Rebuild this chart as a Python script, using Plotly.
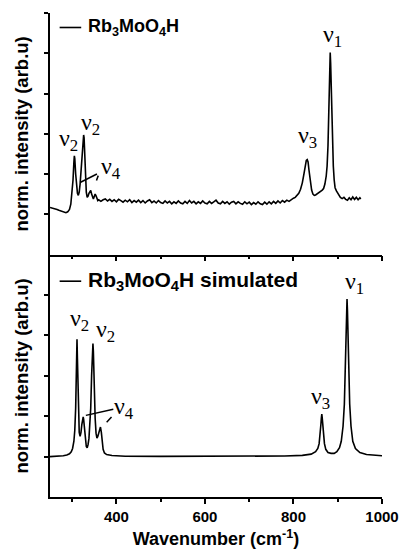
import plotly.graph_objects as go

# ---------------- data ----------------
# Experimental Raman spectrum (top panel)
exp_wavenumber = [
    250, 254, 258, 262, 266, 270, 274, 278, 282, 286, 290, 294, 297, 300, 302, 304, 305, 306, 308, 310,
    312, 314, 316, 318, 320, 322, 324, 326, 327, 328, 330, 332, 334, 336, 338, 340, 342, 344, 346, 348,
    350, 352, 354, 356, 358,
    360, 365, 370, 375, 380, 385, 390, 395, 400, 405, 410, 415, 420, 425, 430, 435, 440, 445, 450, 455,
    460, 465, 470, 475, 480, 485, 490, 495, 500, 505, 510, 515, 520, 525, 530, 535, 540, 545, 550, 555,
    560, 565, 570, 575, 580, 585, 590, 595, 600, 605, 610, 615, 620, 625, 630, 635, 640, 645, 650, 655,
    660, 665, 670, 675, 680, 685, 690, 695, 700, 705, 710, 715, 720, 725, 730, 735, 740, 745, 750, 755,
    760, 765, 770, 775, 780, 785, 790, 795,
    800, 804, 808, 812, 816, 820, 824, 827, 829, 831, 833, 835, 838, 841, 844, 847, 850, 853, 856, 859,
    862, 865, 868, 871, 874, 876, 878, 880, 881, 882, 883, 884, 885, 886, 888, 890, 892, 894, 897, 900,
    903, 906, 910, 914, 918, 922, 926, 930, 934, 938, 942, 946, 950, 952,
]
exp_intensity = [
    0.17, 0.16, 0.15, 0.13, 0.12, 0.10, 0.08, 0.06, 0.05, 0.04, 0.06, 0.12, 0.25, 0.55, 0.85, 1.30, 1.45, 1.38, 1.00, 0.70,
    0.52, 0.47, 0.55, 0.75, 1.05, 1.45, 1.85, 1.97, 1.90, 1.60, 0.95, 0.55, 0.42, 0.45, 0.52, 0.58, 0.59, 0.50, 0.40, 0.38,
    0.44, 0.50, 0.46, 0.38, 0.34,
    0.36, 0.32, 0.36, 0.38, 0.33, 0.37, 0.32, 0.36, 0.31, 0.37, 0.34, 0.30, 0.35, 0.31, 0.36, 0.29, 0.34, 0.30, 0.35, 0.29,
    0.34, 0.28, 0.33, 0.36, 0.29, 0.33, 0.28, 0.34, 0.29, 0.27, 0.33, 0.28, 0.32, 0.26, 0.31, 0.27, 0.33, 0.28, 0.26, 0.32,
    0.27, 0.34, 0.28, 0.32, 0.26, 0.31, 0.27, 0.33, 0.28, 0.26, 0.32, 0.27, 0.31, 0.35, 0.28, 0.26, 0.32, 0.27, 0.31, 0.25,
    0.30, 0.32, 0.26, 0.31, 0.27, 0.25, 0.31, 0.26, 0.30, 0.24, 0.29, 0.25, 0.31, 0.26, 0.24, 0.30, 0.25, 0.31, 0.26, 0.32,
    0.27, 0.33, 0.28, 0.34, 0.30, 0.35, 0.32, 0.37,
    0.40, 0.42, 0.46, 0.52, 0.62, 0.78, 1.02, 1.25, 1.34, 1.36, 1.30, 1.10, 0.80, 0.60, 0.50, 0.47, 0.48, 0.50, 0.52, 0.55,
    0.58, 0.60, 0.64, 0.75, 0.95, 1.20, 1.70, 2.60, 3.20, 3.75, 4.02, 3.75, 3.20, 2.60, 1.70, 1.20, 0.85, 0.66, 0.58, 0.52,
    0.46, 0.42, 0.39, 0.42, 0.37, 0.35, 0.41, 0.36, 0.43, 0.37, 0.42, 0.36, 0.41, 0.38,
]

# Simulated spectrum (bottom panel)
sim_wavenumber = [
    250, 270, 280, 288, 294, 298, 301, 304, 306, 308, 309, 310, 311, 312, 313, 314, 316, 318, 320, 322,
    324, 325, 326, 328, 330, 332, 334, 336, 338, 340, 342, 344, 345, 346, 347, 348, 349, 350, 352, 354,
    356, 358, 360, 362, 364, 366, 368, 370, 373, 378, 390, 420, 500, 600, 700, 780, 820, 840, 850, 855,
    858, 860, 862, 863, 864, 865, 866, 868, 870, 873, 878, 885, 892, 898, 904, 908, 912, 915, 917, 919,
    920, 921, 922, 923, 925, 927, 930, 934, 940, 950, 965, 980, 1000,
]
sim_intensity = [
    0.0, 0.01, 0.02, 0.04, 0.07, 0.12, 0.20, 0.38, 0.65, 1.20, 1.70, 2.40, 2.90, 2.40, 1.70, 1.15, 0.60, 0.50, 0.60, 0.80,
    0.95, 0.98, 0.92, 0.65, 0.38, 0.25, 0.22, 0.30, 0.45, 0.75, 1.20, 2.00, 2.45, 2.75, 2.80, 2.60, 2.10, 1.55, 0.95, 0.58,
    0.46, 0.50, 0.60, 0.70, 0.73, 0.60, 0.35, 0.18, 0.09, 0.05, 0.025, 0.01, 0.005, 0.005, 0.01, 0.015, 0.03, 0.06, 0.12, 0.20,
    0.32, 0.50, 0.80, 0.95, 1.05, 0.95, 0.80, 0.50, 0.32, 0.18, 0.10, 0.08, 0.08, 0.12, 0.22, 0.38, 0.75, 1.30, 2.00, 3.00,
    3.60, 3.90, 3.60, 3.00, 2.00, 1.30, 0.75, 0.38, 0.20, 0.10, 0.05, 0.03, 0.02,
]

# Labels
legend_exp = "Rb<sub>3</sub>MoO<sub>4</sub>H"
legend_sim = "Rb<sub>3</sub>MoO<sub>4</sub>H simulated"
x_tick_major = [400, 600, 800, 1000]
x_tick_minor = [300, 500, 700, 900]
y_title = "norm. intensity (arb.u)"
x_title = "Wavenumber (cm<sup>-1</sup>)"

# Peak labels: (text, x, y) in data units of each panel
top_labels = [("ν<sub>1</sub>", 889, 4.42), ("ν<sub>3</sub>", 832, 1.92), ("ν<sub>2</sub>", 291, 1.85),
              ("ν<sub>2</sub>", 341, 2.24), ("ν<sub>4</sub>", 388, 1.15)]
bot_labels = [("ν<sub>1</sub>", 937, 4.30), ("ν<sub>3</sub>", 860, 1.45), ("ν<sub>2</sub>", 317, 3.38),
              ("ν<sub>2</sub>", 376, 3.10), ("ν<sub>4</sub>", 417, 1.20)]
# leader strokes for nu4 labels: (x0, y0, x1, y1)
top_leaders = [(318, 0.79, 356, 1.00), (355, 0.84, 359, 0.96)]
bot_leaders = [(331, 1.02, 393, 1.17), (378, 0.85, 389, 0.98)]

# ---------------- figure ----------------
BLACK = "black"
SANS = "Liberation Sans, Arial, sans-serif"
SERIF = "Liberation Serif, Times New Roman, serif"

fig = go.Figure()
fig.add_trace(go.Scatter(x=exp_wavenumber, y=exp_intensity, mode="lines",
                         line=dict(color=BLACK, width=1.6), xaxis="x2", yaxis="y2",
                         showlegend=False))
fig.add_trace(go.Scatter(x=sim_wavenumber, y=sim_intensity, mode="lines",
                         line=dict(color=BLACK, width=1.6), xaxis="x", yaxis="y",
                         showlegend=False))

xcommon = dict(range=[250, 1000], showline=True, linecolor=BLACK, linewidth=1.6,
               ticks="outside", ticklen=5, tickwidth=1.5, tickcolor=BLACK,
               tickvals=x_tick_major, showgrid=False, zeroline=False,
               minor=dict(tickvals=x_tick_minor, ticks="outside", ticklen=3,
                          tickwidth=1.5, tickcolor=BLACK, showgrid=False))
ycommon = dict(range=[-1, 5], showline=True, linecolor=BLACK, linewidth=1.6,
               ticks="outside", ticklen=4, tickwidth=1.5, tickcolor=BLACK,
               showticklabels=False, showgrid=False, zeroline=False)

fig.update_layout(
    width=411, height=558,
    margin=dict(l=50, r=20, t=13, b=54),
    paper_bgcolor="white", plot_bgcolor="white",
    xaxis=dict(**xcommon, anchor="y",
               tickfont=dict(family=SANS, size=15, color=BLACK, weight="bold"),
               title=dict(text=x_title, font=dict(family=SANS, size=18, color=BLACK, weight="bold"),
                          standoff=9)),
    xaxis2=dict(**xcommon, anchor="y2", matches="x", showticklabels=False),
    yaxis=dict(**ycommon, domain=[0, 0.501], anchor="x", tickvals=[0, 1, 2, 3, 4]),
    yaxis2=dict(**ycommon, domain=[0.501, 1], anchor="x2", tickvals=[0, 1, 2, 3, 4, 5]),
)

annotations = []
shapes = []
for txt, xv, yv in top_labels:
    annotations.append(dict(text=txt, x=xv, y=yv, xref="x2", yref="y2", showarrow=False,
                            xanchor="center", yanchor="middle",
                            font=dict(family=SERIF, size=24, color=BLACK)))
for txt, xv, yv in bot_labels:
    annotations.append(dict(text=txt, x=xv, y=yv, xref="x", yref="y", showarrow=False,
                            xanchor="center", yanchor="middle",
                            font=dict(family=SERIF, size=24, color=BLACK)))
for x0, y0, x1, y1 in top_leaders:
    shapes.append(dict(type="line", x0=x0, y0=y0, x1=x1, y1=y1, xref="x2", yref="y2",
                       line=dict(color=BLACK, width=1.5)))
for x0, y0, x1, y1 in bot_leaders:
    shapes.append(dict(type="line", x0=x0, y0=y0, x1=x1, y1=y1, xref="x", yref="y",
                       line=dict(color=BLACK, width=1.5)))

# legends (line sample + label)
for txt, yref, ypos, size in [(legend_exp, "y2 domain", 0.94, 18), (legend_sim, "y domain", 0.89, 21)]:
    shapes.append(dict(type="line", xref="x domain", yref=yref, x0=0.029, x1=0.094, y0=ypos, y1=ypos,
                       line=dict(color=BLACK, width=1.6)))
    annotations.append(dict(text=txt, xref="x domain", yref=yref, x=0.108, y=ypos,
                            xanchor="left", yanchor="middle", showarrow=False,
                            font=dict(family=SANS, size=size, color=BLACK, weight="bold")))

# y titles
for yref in ["y2 domain", "y domain"]:
    annotations.append(dict(text=y_title, xref="paper", yref=yref, x=-0.085, y=0.5,
                            xanchor="center", yanchor="middle", textangle=-90, showarrow=False,
                            font=dict(family=SANS, size=18.5, color=BLACK, weight="bold")))

fig.update_layout(annotations=annotations, shapes=shapes)
fig.write_html("out.html")
